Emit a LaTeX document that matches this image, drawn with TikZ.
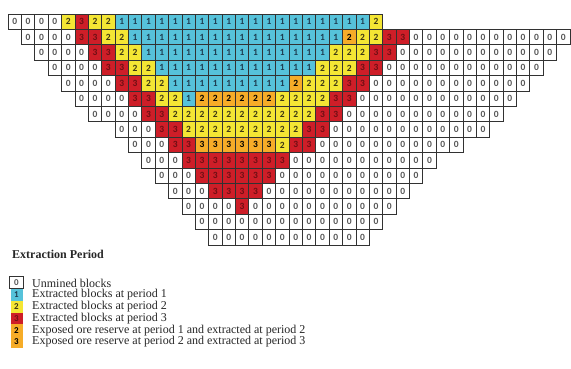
\documentclass[tikz,border=0pt]{standalone}
\usepackage{fontspec}
\setmainfont{Liberation Serif}
\newfontfamily\cellfont{Carlito}
\definecolor{cblue}{RGB}{86,194,218}
\definecolor{cyellow}{RGB}{244,230,52}
\definecolor{cred}{RGB}{206,30,40}
\definecolor{corange}{RGB}{246,172,40}
\definecolor{gridc}{RGB}{50,50,50}
\definecolor{zeroc}{RGB}{85,85,85}
\definecolor{onec}{RGB}{30,60,80}
\definecolor{twoc}{RGB}{60,55,20}
\definecolor{threec}{RGB}{110,15,20}
\newcount\colidx
\begin{document}
\begin{tikzpicture}[x=1pt,y=-1pt,
  cell/.style={draw=gridc, line width=0.7pt, minimum width=13.38pt, minimum height=15.4pt, inner sep=0pt, font=\cellfont\bfseries\fontsize{9.5}{10}\selectfont},
  k0/.style={fill=white,text=zeroc},
  k1/.style={fill=cblue,text=onec},
  k2/.style={fill=cyellow,text=twoc},
  k3/.style={fill=cred,text=threec},
  k4/.style={fill=corange,text=black},
  lbox/.style={minimum width=12pt, minimum height=11.8pt, inner sep=0pt, font=\cellfont\bfseries\fontsize{9}{10}\selectfont},
  ltext/.style={anchor=west, inner sep=0pt, text=black!85, font=\fontsize{12}{13}\selectfont}]
\useasboundingbox (0,0) rectangle (571,369);
\foreach \r/\s/\runs in {
 0/0/{k0/0/4,k2/2/1,k3/3/1,k2/2/2,k1/1/19,k2/2/1},
 1/1/{k0/0/4,k3/3/2,k2/2/2,k1/1/16,k4/2/1,k2/2/2,k3/3/2,k0/0/12},
 2/2/{k0/0/4,k3/3/2,k2/2/2,k1/1/14,k2/2/3,k3/3/2,k0/0/12},
 3/3/{k0/0/4,k3/3/2,k2/2/2,k1/1/12,k2/2/3,k3/3/2,k0/0/12},
 4/4/{k0/0/4,k3/3/2,k2/2/2,k1/1/9,k4/2/1,k2/2/3,k3/3/2,k0/0/12},
 5/5/{k0/0/4,k3/3/2,k2/2/2,k1/1/1,k4/2/6,k2/2/4,k3/3/2,k0/0/12},
 6/6/{k0/0/4,k3/3/2,k2/2/11,k3/3/2,k0/0/12},
 7/8/{k0/0/3,k3/3/2,k2/2/9,k3/3/2,k0/0/12},
 8/9/{k0/0/3,k3/3/2,k4/3/6,k2/2/1,k3/3/2,k0/0/11},
 9/10/{k0/0/3,k3/3/8,k0/0/11},
 10/11/{k0/0/3,k3/3/6,k0/0/11},
 11/12/{k0/0/3,k3/3/4,k0/0/11},
 12/13/{k0/0/4,k3/3/1,k0/0/11},
 13/14/{k0/0/14,k0/0/0},
 14/15/{k0/0/12,k0/0/0}}{
  \global\colidx=\s\relax
  \foreach \st/\d/\n in \runs {
    \ifnum\n>0
    \foreach \k in {1,...,\n} {
      \pgfmathsetmacro\xx{8+13.38*\the\colidx+6.69}
      \pgfmathsetmacro\yy{14+15.4*\r+7.7}
      \node[cell,\st] (c\r-\the\colidx) at (\xx,\yy) {\d};
      \global\advance\colidx by 1\relax
    }
    \fi
  }
}
\node[anchor=west, inner sep=0pt, text=black!85, font=\bfseries\fontsize{12}{13}\selectfont] (title) at (12,254.5) {Extraction Period};
\node[lbox,k0,draw=gridc,line width=0.7pt,minimum width=13.5pt,minimum height=12.5pt] (l0) at (16.5,282.5) {0};
\node[lbox,k1] (l1) at (16.5,294.8) {1};
\node[lbox,k2] (l2) at (16.5,306.6) {2};
\node[lbox,k3] (l3) at (16.5,318.4) {3};
\node[lbox,k4] (l4) at (16.5,330.2) {2};
\node[lbox,k4] (l5) at (16.5,342) {3};
\node[ltext] (t0) at (32,283) {Unmined blocks};
\node[ltext] (t1) at (32,294.8) {Extracted blocks at period 1};
\node[ltext] (t2) at (32,306.6) {Extracted blocks at period 2};
\node[ltext] (t3) at (32,318.4) {Extracted blocks at period 3};
\node[ltext] (t4) at (32,330.2) {Exposed ore reserve at period 1 and extracted at period 2};
\node[ltext] (t5) at (32,342) {Exposed ore reserve at period 2 and extracted at period 3};
\end{tikzpicture}
\end{document}
